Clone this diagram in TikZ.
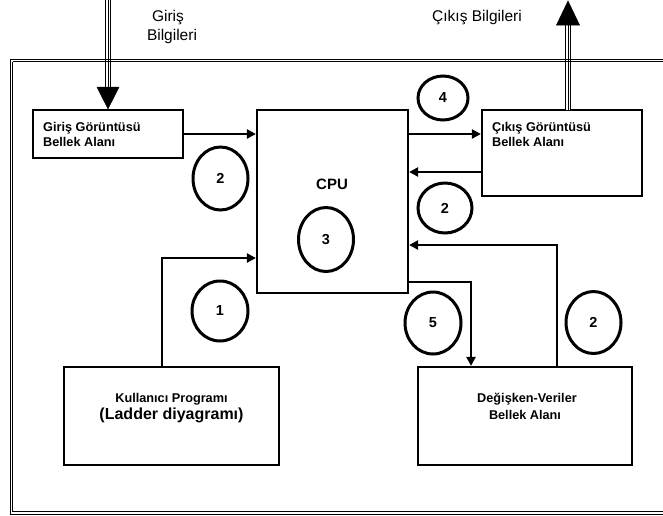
\documentclass[tikz,border=0pt]{standalone}
\usepackage{fontspec}
\setmainfont{Liberation Sans}
\usetikzlibrary{arrows.meta,shapes.geometric}
\begin{document}
\begin{tikzpicture}[x=1pt,y=-1pt,
  box/.style={draw, line width=2.2pt, inner sep=0pt},
  arr/.style={line width=2.7pt, -{Triangle[length=9pt,width=9pt]}},
  bub/.style={draw, ellipse, line width=3pt, inner sep=0pt, font=\fontsize{14.5}{14.5}\selectfont\bfseries},
  lbl/.style={inner sep=0pt, font=\fontsize{12.7}{12.7}\selectfont\bfseries},
  big/.style={inner sep=0pt, font=\fontsize{15.5}{15.5}\selectfont},
  tripleline/.style={line width=6.5pt, postaction={draw, white, line width=4.5pt}, postaction={draw, black, line width=1pt}},
  headfill/.style={fill=black, draw=black, line width=0.5pt, line join=miter}
]
\useasboundingbox (0,0) rectangle (663,515);
\clip (0,0) rectangle (663,515);
\fill[white] (0,0) rectangle (663,515);

% boxes
\node[box, minimum width=150pt, minimum height=48pt] (in) at (108,134) {};
\node[box, minimum width=151pt, minimum height=183pt] (cpu) at (332.5,201.5) {};
\node[box, minimum width=160pt, minimum height=86pt] (out) at (562,153) {};
\node[box, minimum width=215pt, minimum height=98pt] (kp) at (171.5,416) {};
\node[box, minimum width=214pt, minimum height=98pt] (dv) at (525,416) {};

% input big arrow
\coordinate (inTop) at (108,-3);
\coordinate (inBase) at (108,87);
\draw[tripleline] (inTop) -- (inBase);
\filldraw[headfill] (97,87) -- (119,87) -- (in.north) -- cycle;

% output big arrow
\coordinate (outBot) at (568,110);
\coordinate (outBase) at (568,25);
\coordinate (outTip) at (568,1);
\draw[tripleline] (outBot) -- (outBase);
\filldraw[headfill] (556.5,25) -- (579.5,25) -- (outTip) -- cycle;

% outer frame
\draw[line width=0.8pt] (10,59) -- (10,514);
\draw[line width=0.8pt] (12.5,61.5) -- (12.5,511.5);
\draw[line width=0.8pt] (10,59) -- (700,59);
\draw[line width=0.8pt] (12.5,61.5) -- (700,61.5);
\draw[line width=0.8pt] (10,514) -- (700,514);
\draw[line width=0.8pt] (12.5,511.5) -- (700,511.5);

% connectors
\draw[arr] (in.east) -- (in.east -| cpu.west);
\draw[arr] ([xshift=-9.5pt]kp.north) |- ([yshift=-56.5pt]cpu.west);
\draw[arr] (cpu.east |- in.east) -- (out.west |- in.east);
\draw[arr] ([yshift=-19pt]out.west) -- ([yshift=-19pt]out.west -| cpu.east);
\draw[arr] ([xshift=32pt]dv.north) |- ([yshift=-43.5pt]cpu.east);
\draw[arr] ([yshift=-80.5pt]cpu.east) -| ([xshift=-54pt]dv.north);

% bubbles
\node[bub, minimum width=55pt, minimum height=63pt] (b2a) at (220.5,178.5) {2};
\node[bub, minimum width=55pt, minimum height=64pt] (b3) at (326,239.5) {3};
\node[bub, minimum width=56pt, minimum height=60pt] (b1) at (220,311) {1};
\node[bub, minimum width=56pt, minimum height=62pt] (b5) at (433,323) {5};
\node[bub, minimum width=55pt, minimum height=62pt] (b2c) at (593.5,322.5) {2};
\node[bub, minimum width=50pt, minimum height=44pt] (b4) at (443,98) {4};
\node[bub, minimum width=54pt, minimum height=50pt] (b2b) at (445,208) {2};

% texts
\node[lbl, anchor=base west] (t1) at (43,131.5) {Giriş Görüntüsü};
\node[lbl, anchor=base west] (t2) at (43,146) {Bellek Alanı};
\node[lbl, anchor=base west] (t3) at (492,131.5) {Çıkış Görüntüsü};
\node[lbl, anchor=base west] (t4) at (492,146) {Bellek Alanı};
\node[inner sep=0pt, anchor=base, font=\fontsize{15}{15}\selectfont\bfseries] (tcpu) at (332,189) {CPU};
\node[lbl, anchor=base] (t5) at (171.5,402) {Kullanıcı Programı};
\node[inner sep=0pt, anchor=base, font=\fontsize{16}{16}\selectfont\bfseries] (t6) at (171.5,419) {(Ladder diyagramı)};
\node[lbl, anchor=base] (t7) at (527,402) {Değişken-Veriler};
\node[lbl, anchor=base] (t8) at (525,419) {Bellek Alanı};
\node[big, anchor=base] (t9) at (168,21) {Giriş};
\node[big, anchor=base] (t10) at (172,40) {Bilgileri};
\node[big, anchor=base] (t11) at (477,21) {Çıkış Bilgileri};
\end{tikzpicture}
\end{document}
